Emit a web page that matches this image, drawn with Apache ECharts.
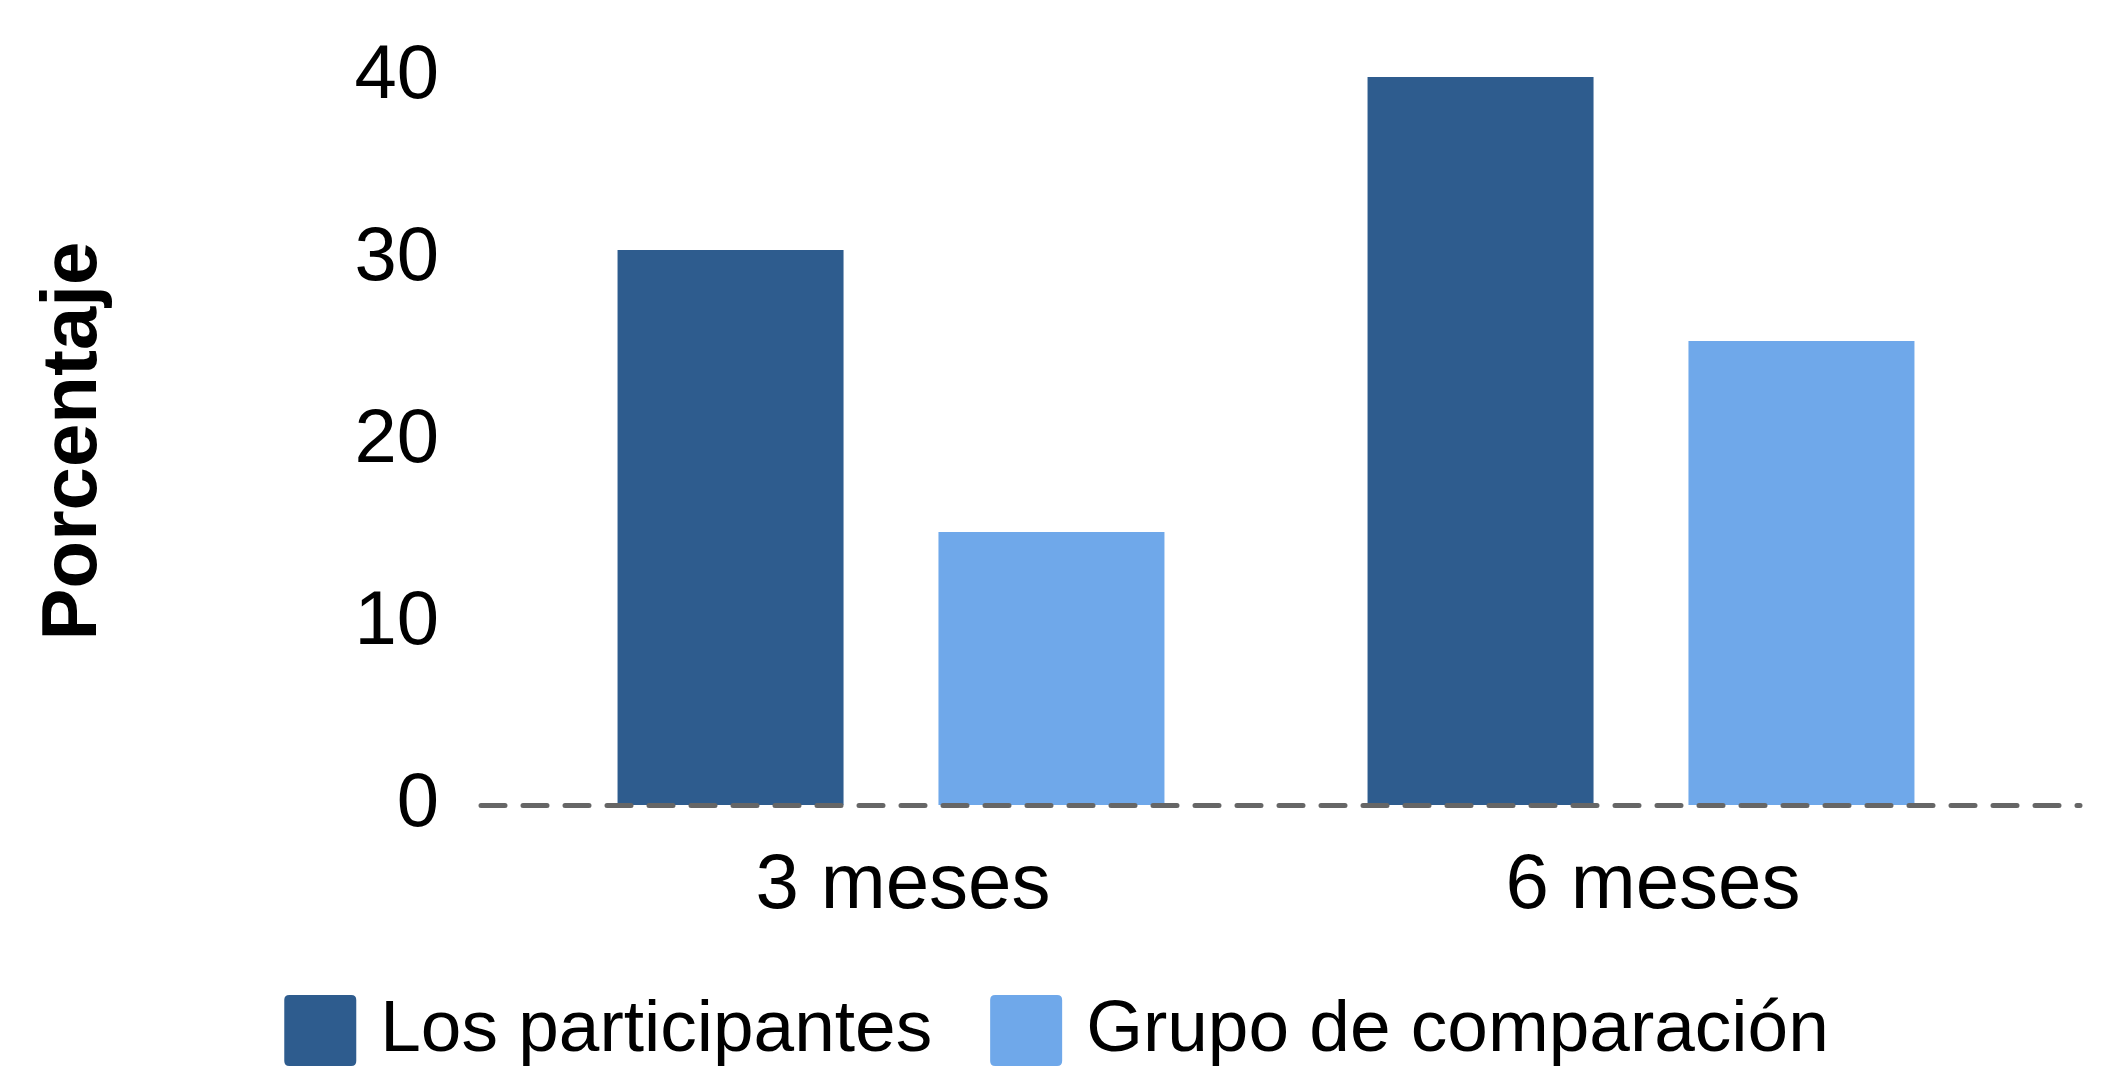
<!DOCTYPE html>
<html>
<head>
<meta charset="utf-8">
<script src="https://cdn.jsdelivr.net/npm/echarts@6/dist/echarts.min.js"></script>
<style>
html,body{margin:0;padding:0;background:#fff;}
#chart{width:2113px;height:1078px;}
</style>
</head>
<body>
<div id="chart"></div>
<script>
const categories = ["3 meses", "6 meses"];
const seriesNames = ["Los participantes", "Grupo de comparación"];
const participantes = [30.5, 40.0];
const comparacion = [15.0, 25.5];
const yTicks = [0, 10, 20, 30, 40];

const FONT = "'Liberation Sans', Arial, Helvetica, sans-serif";
const chart = echarts.init(document.getElementById('chart'), null, {renderer: 'canvas'});

const iconPath = 'path://M5,0 L67,0 Q72,0 72,5 L72,66 Q72,71 67,71 L5,71 Q0,71 0,66 L0,5 Q0,0 5,0 Z';

const option = {
  backgroundColor: '#ffffff',
  animation: false,
  legend: {
    bottom: 6,
    left: 'center',
    itemWidth: 72,
    itemHeight: 71,
    itemGap: 58,
    icon: iconPath,
    textStyle: {fontFamily: FONT, fontSize: 73, color: '#000', padding: [0, 0, 0, 19]},
    data: seriesNames
  },
  grid: [
    {left: 516, right: 97, top: 77, bottom: 273, containLabel: false},
    {left: 481, right: 33, top: 77, bottom: 273, containLabel: false}
  ],
  xAxis: [
    {
      type: 'category', gridIndex: 0, data: categories,
      axisLine: {show: false}, axisTick: {show: false},
      axisLabel: {fontFamily: FONT, fontSize: 78, color: '#000', margin: 42, padding: [0, 0, 0, 24]}
    },
    {
      type: 'value', gridIndex: 1, min: 0, max: 1, z: 10,
      axisLine: {show: true, lineStyle: {color: '#666666', width: 5, type: [24, 18]}},
      axisTick: {show: false}, axisLabel: {show: false}, splitLine: {show: false}
    }
  ],
  yAxis: [
    {
      type: 'value', gridIndex: 0, min: yTicks[0], max: yTicks[yTicks.length - 1], interval: 10,
      name: 'Porcentaje', nameLocation: 'middle', nameGap: 403,
      nameTextStyle: {fontFamily: FONT, fontSize: 78, fontWeight: 'bold', color: '#000'},
      axisLine: {show: false}, axisTick: {show: false}, splitLine: {show: false},
      axisLabel: {fontFamily: FONT, fontSize: 76, color: '#000', margin: 77}
    },
    {
      type: 'value', gridIndex: 1, min: 0, max: 1, show: false
    }
  ],
  series: [
    {
      name: seriesNames[0], type: 'bar', xAxisIndex: 0, yAxisIndex: 0,
      data: participantes, barWidth: 226, barGap: '42%',
      itemStyle: {color: '#2E5C8E'}
    },
    {
      name: seriesNames[1], type: 'bar', xAxisIndex: 0, yAxisIndex: 0,
      data: comparacion, barWidth: 226, barGap: '42%',
      itemStyle: {color: '#6FA8EA'}
    }
  ]
};
chart.setOption(option);
</script>
</body>
</html>
